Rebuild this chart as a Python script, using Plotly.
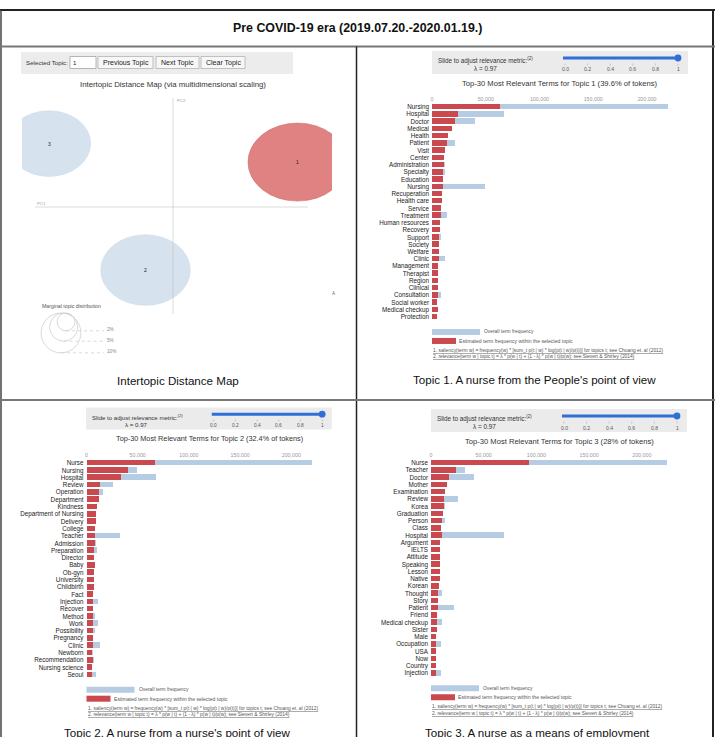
import math
import plotly.graph_objects as go

W, H = 715, 737

# ---------------- data ----------------
fig_title = "Pre COVID-19 era (2019.07.20.-2020.01.19.)"
captions = ["Intertopic Distance Map",
            "Topic 1. A nurse from the People's point of view",
            "Topic 2. A nurse from a nurse's point of view",
            "Topic 3. A nurse as a means of employment"]

topic_ids = [1, 2, 3]
topic_pc1 = [0.249, -0.055, -0.248]
topic_pc2 = [0.114, -0.160, 0.161]
topic_share = [39.6, 32.4, 28.0]
marginal_levels = [2, 5, 10]

terms1 = ["Nursing", "Hospital", "Doctor", "Medical", "Health", "Patient", "Visit", "Center",
          "Administration", "Specialty", "Education", "Nursing", "Recuperation", "Health care",
          "Service", "Treatment", "Human resources", "Recovery", "Support", "Society", "Welfare",
          "Clinic", "Management", "Therapist", "Region", "Clinical", "Consultation",
          "Social worker", "Medical checkup", "Protection"]
red1 = [63000, 24000, 21000, 18300, 15200, 14000, 12000, 11200, 10900, 10200, 9900, 9900, 9000,
        9300, 8400, 8000, 7400, 7100, 6800, 6800, 6500, 6200, 5900, 5600, 5600, 5300, 5300, 5000,
        5300, 5000]
blue1 = [219500, 67000, 40000, 18300, 15200, 21700, 12000, 11200, 11800, 12400, 9900, 49000, 9000,
         9600, 8400, 13600, 7400, 7100, 8000, 6800, 6500, 12400, 5900, 5600, 5600, 5300, 8400, 5000,
         5300, 5000]

terms2 = ["Nurse", "Nursing", "Hospital", "Review", "Operation", "Department", "Kindness",
          "Department of Nursing", "Delivery", "College", "Teacher", "Admission", "Preparation",
          "Director", "Baby", "Ob-gyn", "University", "Childbirth", "Fact", "Injection", "Recover",
          "Method", "Work", "Possibility", "Pregnancy", "Clinic", "Newborn", "Recommendation",
          "Nursing science", "Seoul"]
red2 = [66400, 39700, 33500, 12700, 11700, 11400, 9400, 8800, 8500, 8100, 8100, 7800, 6800, 7200,
        7500, 7200, 6900, 6500, 6200, 6200, 5600, 5900, 5900, 5600, 5600, 5600, 5200, 5600, 4600,
        5200]
blue2 = [220000, 49000, 67700, 25700, 15300, 11400, 9400, 8800, 8500, 8100, 32200, 8400, 10000,
         7200, 7500, 7200, 6900, 6500, 6200, 10500, 5600, 7500, 10800, 8200, 5600, 13000, 6200,
         6500, 4600, 8800]

terms3 = ["Nurse", "Teacher", "Doctor", "Mother", "Examination", "Review", "Korea", "Graduation",
          "Person", "Class", "Hospital", "Argument", "IELTS", "Attitude", "Speaking", "Lesson",
          "Native", "Korean", "Thought", "Story", "Patient", "Friend", "Medical checkup", "Sister",
          "Male", "Occupation", "USA", "Now", "Country", "Injection"]
red3 = [92600, 24000, 16700, 15200, 13000, 12600, 12600, 11400, 10700, 9800, 10100, 8800, 8800,
        8500, 8800, 8500, 8200, 7900, 7000, 7000, 6300, 6000, 5700, 5400, 4700, 5000, 4400, 4700,
        4400, 4700]
blue3 = [223700, 32500, 41000, 15200, 13000, 25600, 13600, 11400, 13300, 9800, 68900, 8800, 8800,
         8500, 8800, 8500, 8200, 7900, 10700, 7000, 22000, 6000, 10400, 5400, 4700, 9200, 4400,
         4700, 5000, 9200]

axis_ticks = [0, 50000, 100000, 150000, 200000]
axis_ticktext = ["0", "50,000", "100,000", "150,000", "200,000"]
slider_ticks = ["0.0", "0.2", "0.4", "0.6", "0.8", "1"]
lambda_value = 0.97

# ---------------- styling ----------------
FONT = "Liberation Sans, Arial, sans-serif"
BLUE = "#b5cce3"
RED = "#c9494e"
CIRC_BLUE = "#d6e3ef"
CIRC_RED = "#e08182"

shapes, ann = [], []


def X(p):
    return p / W


def Y(p):
    return 1 - p / H


def rect(x0, y0, x1, y1, fill=None, line=None, lw=0):
    shapes.append(dict(type="rect", xref="paper", yref="paper", x0=X(x0), x1=X(x1),
                       y0=Y(y1), y1=Y(y0), fillcolor=fill or "rgba(0,0,0,0)",
                       line=dict(color=line or "rgba(0,0,0,0)", width=lw), layer="above"))


def seg(x0, y0, x1, y1, color, w=1, dash=None):
    d = dict(color=color, width=w)
    if dash:
        d["dash"] = dash
    shapes.append(dict(type="line", xref="paper", yref="paper", x0=X(x0), x1=X(x1),
                       y0=Y(y0), y1=Y(y1), line=d, layer="above"))


def circ(cx, cy, rx, ry, fill=None, line=None, lw=0):
    shapes.append(dict(type="circle", xref="paper", yref="paper", x0=X(cx - rx), x1=X(cx + rx),
                       y0=Y(cy + ry), y1=Y(cy - ry), fillcolor=fill or "rgba(0,0,0,0)",
                       line=dict(color=line or "rgba(0,0,0,0)", width=lw), layer="above"))


def text(x, y, s, size, color="#333", anchor="left", family=FONT):
    ann.append(dict(xref="paper", yref="paper", x=X(x), y=Y(y), text=s, showarrow=False,
                    xanchor=anchor, yanchor="middle", font=dict(size=size, color=color, family=family),
                    borderpad=0))


fig = go.Figure()

# ---------------- frame ----------------
seg(0, 10, 715, 10, "#222", 2)
seg(1, 10, 1, 737, "#444", 1.5)
seg(713, 10, 713, 737, "#222", 2)
seg(0, 46.5, 715, 46.5, "#777", 2)
seg(356.5, 46.5, 356.5, 737, "#222", 1.5)
seg(0, 400, 715, 400, "#777", 2)
text(357, 28, "<b>" + fig_title + "</b>", 12.4, "#111", "center")
text(178, 380, captions[0], 11.6, "#111", "center")
text(534, 379, captions[1], 11.6, "#111", "center")
text(177, 732, captions[2], 11.6, "#111", "center")
text(537, 732, captions[3], 11.6, "#111", "center")

# ---------------- panel 1 : intertopic distance map ----------------
rect(21, 52, 293, 74, fill="#ececec")
text(25, 63, "Selected Topic:", 6.2, "#333")
rect(70, 56.5, 96, 68.5, fill="#ffffff", line="#999", lw=0.7)
text(72, 62.5, "1", 6, "#222")
for (bx0, bx1, lab) in [(98, 153, "Previous Topic"), (156, 199, "Next Topic"), (201, 245, "Clear Topic")]:
    rect(bx0, 56.5, bx1, 68.5, fill="#f7f7f7", line="#aaa", lw=0.7)
    text((bx0 + bx1) / 2, 62.5, lab, 7, "#222", "center")
text(173, 84, "Intertopic Distance Map (via multidimensional scaling)", 7.8, "#333", "center")

# MDS axes: domain 22..332 px (x), 98..314 px (y); origin at (173, 207)
px_per_unit_x = 500.0
px_per_unit_y = 394.0
xr = [-(173 - 22) / px_per_unit_x, (332 - 173) / px_per_unit_x]
yr = [-(314 - 207) / px_per_unit_y, (207 - 98) / px_per_unit_y]
fig.update_layout(
    xaxis=dict(domain=[X(22), X(332)], range=xr, visible=False, fixedrange=True, anchor="y"),
    yaxis=dict(domain=[Y(314), Y(98)], range=yr, visible=False, fixedrange=True, anchor="x"),
)
fig.add_trace(go.Scatter(x=[0], y=[0], mode="markers", marker=dict(size=1, opacity=0),
                         xaxis="x", yaxis="y", hoverinfo="skip", showlegend=False))
for tid, cx, cy, share in zip(topic_ids, topic_pc1, topic_pc2, topic_share):
    r = 0.01574 * math.sqrt(share)
    sel = tid == 1
    shapes.append(dict(type="circle", xref="x", yref="y", x0=cx - r, x1=cx + r, y0=cy - r, y1=cy + r,
                       fillcolor=CIRC_RED if sel else CIRC_BLUE,
                       line=dict(color="#d07070" if sel else "#cddbe8", width=0.6), layer="below"))
    ann.append(dict(xref="x", yref="y", x=cx, y=cy, text=str(tid), showarrow=False,
                    font=dict(size=5, color="#222", family=FONT)))
seg(173, 98, 173, 314, "rgba(190,190,190,0.55)", 1)
seg(35, 207, 308, 207, "rgba(190,190,190,0.55)", 1)
text(176, 100, "PC2", 4.3, "#999")
text(36, 203.5, "PC1", 4.3, "#999")
text(333, 293, "A", 4.5, "#666", "center")

text(41, 306, "Marginal topic distribution", 5.2, "#555")
for p in marginal_levels[::-1]:
    r = 6.3 * math.sqrt(p)
    cx = 70 - 0.45 * r
    cy = 313 + r
    circ(cx, cy, r, r, line="#cfcfcf", lw=0.8)
    seg(cx, cy + r, 104, cy + r, "#cfcfcf", 0.8, "dot")
    text(106, cy + r - 1, f"{p}%", 4.7, "#888")

# ---------------- bar panels ----------------
panels = [
    dict(terms=terms1, red=red1, blue=blue1, topic=1, share=topic_share[0],
         x0=432, k=1.075, y0=107, step=7.24, box=(432, 51), s=1.0),
    dict(terms=terms2, red=red2, blue=blue2, topic=2, share=topic_share[1],
         x0=86.5, k=1.024, y0=463, step=7.3, box=(86, 407.5), s=0.96),
    dict(terms=terms3, red=red3, blue=blue3, topic=3, share=topic_share[2],
         x0=431, k=1.054, y0=463, step=7.25, box=(431, 409), s=1.0),
]
xmax = 230000
for i, P in enumerate(panels):
    n = i + 2
    idx = list(range(len(P["terms"])))
    fig.add_trace(go.Bar(y=idx, x=P["blue"], orientation="h", marker=dict(color=BLUE, line=dict(width=0)),
                         width=0.76, xaxis=f"x{n}", yaxis=f"y{n}", hoverinfo="skip", showlegend=False))
    fig.add_trace(go.Bar(y=idx, x=P["red"], orientation="h", marker=dict(color=RED, line=dict(width=0)),
                         width=0.76, xaxis=f"x{n}", yaxis=f"y{n}", hoverinfo="skip", showlegend=False))
    x0, k, y0, step = P["x0"], P["k"], P["y0"], P["step"]
    fig.layout[f"xaxis{n}"] = dict(domain=[X(x0), X(x0 + xmax / 1000 * k)], range=[0, xmax], side="top",
                                   tickvals=axis_ticks, ticktext=axis_ticktext, showgrid=False,
                                   zeroline=False, showline=False, ticks="", anchor=f"y{n}",
                                   tickfont=dict(size=5.3, color="#999", family=FONT), fixedrange=True)
    fig.layout[f"yaxis{n}"] = dict(domain=[Y(y0 + 29.5 * step), Y(y0 - 0.5 * step)], range=[29.5, -0.5],
                                   tickvals=idx, ticktext=P["terms"], showgrid=False, zeroline=False,
                                   showline=False, ticks="", anchor=f"x{n}", ticklabelstandoff=2,
                                   tickfont=dict(size=6.3, color="#222", family=FONT), fixedrange=True)

    # slider box
    bl, bt = P["box"]
    s = P["s"]
    rect(bl, bt, bl + 256 * s, bt + 23 * s, fill="#ebebeb")
    text(bl + 5 * s, bt + 9.5 * s, "Slide to adjust relevance metric:<sup>(2)</sup>", 6.3 * s, "#333")
    text(bl + 53 * s, bt + 17.3 * s, f"λ = {lambda_value}", 6.4 * s, "#333", "center")
    sl0, sl1 = bl + 131 * s, bl + 246 * s
    seg(sl0, bt + 7 * s, sl1, bt + 7 * s, "#2f6fd8", 3)
    circ(sl1, bt + 7 * s, 3.4, 3.4, fill="#2f6fd8")
    t0, t1 = bl + 133 * s, bl + 246 * s
    for j, lab in enumerate(slider_ticks):
        tx = t0 + j * (t1 - t0) / (len(slider_ticks) - 1)
        seg(tx, bt + 12.5 * s, tx, bt + 14.5 * s, "#aaa", 0.6)
        text(tx, bt + 18.5 * s, lab, 5.0 * s, "#555", "center")
    text(x0 + 128 * s, bt + 32.5 * s,
         f"Top-30 Most Relevant Terms for Topic {P['topic']} ({P['share']:g}% of tokens)", 7.6 * s,
         "#333", "center")

    # legend & footnotes
    last = y0 + 29 * step
    rect(x0, last + 12, x0 + 48, last + 18, fill=BLUE)
    text(x0 + 51, last + 15, "Overall term frequency", 4.9, "#555")
    rect(x0, last + 21, x0 + 24, last + 27, fill=RED)
    text(x0 + 26, last + 24, "Estimated term frequency within the selected topic", 5.1, "#555")
    text(x0, last + 33.5,
         "<u>1. saliency(term w) = frequency(w) * [sum_t p(t | w) * log(p(t | w)/p(t))] for topics t; "
         "see Chuang et. al (2012)</u>", 4.9, "#555")
    text(x0, last + 40,
         "<u>2. relevance(term w | topic t) = λ * p(w | t) + (1 - λ) * p(w | t)/p(w); "
         "see Sievert &amp; Shirley (2014)</u>", 4.9, "#555")

fig.update_layout(
    width=W, height=H, autosize=False,
    margin=dict(l=0, r=0, t=0, b=0, pad=0),
    paper_bgcolor="white", plot_bgcolor="white",
    barmode="overlay", bargap=0,
    shapes=shapes, annotations=ann, showlegend=False,
)
fig.write_html("out.html")
